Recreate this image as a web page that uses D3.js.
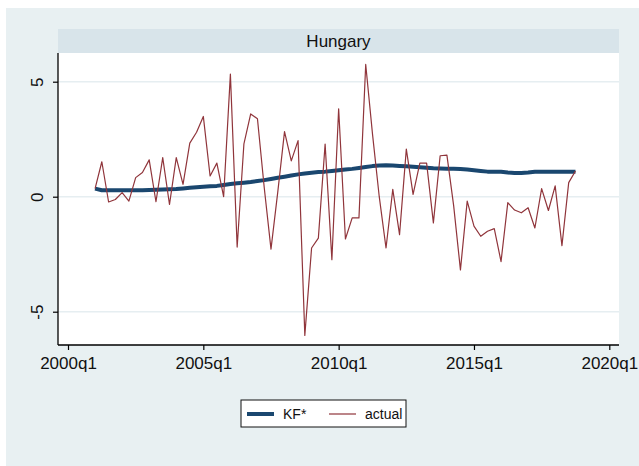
<!DOCTYPE html>
<html>
<head>
<meta charset="utf-8">
<script src="https://cdn.jsdelivr.net/npm/d3@7"></script>
<style>
  html, body { margin: 0; padding: 0; background: #ffffff; }
  svg { display: block; font-family: "Liberation Sans", Arial, sans-serif; }
</style>
</head>
<body>
<svg id="chart" width="639" height="466"></svg>
<script>
// Hungary: Kalman-filtered trend (KF*) against the actual quarterly series, 2001q1–2018q4
const panelTitle = "Hungary";
const firstYear = 2001;
const kfStar = [
  0.35, 0.28, 0.28, 0.28,
  0.28, 0.28, 0.28, 0.28,
  0.29, 0.30, 0.31, 0.32,
  0.33, 0.36, 0.39, 0.41,
  0.43, 0.45, 0.47, 0.51,
  0.55, 0.58, 0.61, 0.64,
  0.68, 0.72, 0.77, 0.82,
  0.87, 0.92, 0.97, 1.01,
  1.04, 1.07, 1.09, 1.12,
  1.15, 1.18, 1.21, 1.25,
  1.29, 1.33, 1.36, 1.37,
  1.36, 1.34, 1.32, 1.30,
  1.28, 1.26, 1.24, 1.23,
  1.22, 1.21, 1.20, 1.18,
  1.15, 1.12, 1.09, 1.09,
  1.08, 1.05, 1.03, 1.03,
  1.05, 1.08, 1.09, 1.09,
  1.09, 1.09, 1.09, 1.09
];
const actual = [
  0.35, 1.52, -0.23, -0.12,
  0.18, -0.19, 0.83, 1.05,
  1.60, -0.22, 1.70, -0.34,
  1.70, 0.54, 2.33, 2.80,
  3.49, 0.90, 1.46, 0.00,
  5.33, -2.19, 2.30, 3.60,
  3.39, 0.40, -2.28, 0.20,
  2.83, 1.56, 2.44, -6.03,
  -2.23, -1.80, 2.29, -2.74,
  3.82, -1.84, -0.92, -0.92,
  5.75, 2.73, 0.00, -2.23,
  0.32, -1.65, 2.07, 0.10,
  1.46, 1.46, -1.14, 1.78,
  1.81, -0.40, -3.18, -0.19,
  -1.28, -1.72, -1.50, -1.39,
  -2.82, -0.26, -0.58, -0.70,
  -0.48, -1.36, 0.35, -0.60,
  0.47, -2.13, 0.61, 1.12
];
const xTickLabels = ["2000q1", "2005q1", "2010q1", "2015q1", "2020q1"];
const yTicks = [-5, 0, 5];
const legendLabels = ["KF*", "actual"];

// quarter index counted from 2000q1
const tIndex = d => (d.year - 2000) * 4 + (d.q - 1);
const parseQ = s => ({ year: +s.slice(0, 4), q: +s.slice(5) });
const periods = actual.map((_, i) => ({ year: firstYear + Math.floor(i / 4), q: (i % 4) + 1 }));
const rows = periods.map((p, i) => ({ t: tIndex(p), kf: kfStar[i], actual: actual[i] }));

const svg = d3.select("#chart");
const W = 639, H = 466;
const plot = { left: 58, right: 619, top: 53, bottom: 345 };

// outer graph region
svg.append("rect").attr("x", 6).attr("y", 8).attr("width", W - 6).attr("height", H - 8)
  .attr("fill", "#e8f0f2");

// panel title strip
svg.append("rect").attr("x", plot.left).attr("y", 29)
  .attr("width", plot.right - plot.left).attr("height", plot.top - 29)
  .attr("fill", "#d8e4ea");
svg.append("text").attr("x", (plot.left + plot.right) / 2).attr("y", 47)
  .attr("text-anchor", "middle").attr("font-size", 17).attr("fill", "#111")
  .text(panelTitle);

// plot region
svg.append("rect").attr("x", plot.left).attr("y", plot.top)
  .attr("width", plot.right - plot.left).attr("height", plot.bottom - plot.top)
  .attr("fill", "#ffffff");

const x = d3.scaleLinear()
  .domain(d3.extent(xTickLabels.map(s => tIndex(parseQ(s)))))
  .range([68, 609.3]);
const y = d3.scaleLinear().domain([-5, 5]).range([311.7, 81.7]);

// horizontal grid lines
svg.append("g").selectAll("line").data(yTicks).join("line")
  .attr("x1", plot.left).attr("x2", plot.right)
  .attr("y1", d => y(d)).attr("y2", d => y(d))
  .attr("stroke", "#e6eef1").attr("stroke-width", 1.5);

// series
const lineKF = d3.line().x(d => x(d.t)).y(d => y(d.kf));
const lineActual = d3.line().x(d => x(d.t)).y(d => y(d.actual));
svg.append("path").datum(rows).attr("d", lineKF)
  .attr("fill", "none").attr("stroke", "#1a476f").attr("stroke-width", 4)
  .attr("stroke-linejoin", "round");
svg.append("path").datum(rows).attr("d", lineActual)
  .attr("fill", "none").attr("stroke", "#90353b").attr("stroke-width", 1.2)
  .attr("stroke-linejoin", "round");

// x axis
const xAxis = d3.axisBottom(x)
  .tickValues(xTickLabels.map(s => tIndex(parseQ(s))))
  .tickFormat((d, i) => xTickLabels[i])
  .tickSize(5).tickSizeOuter(0).tickPadding(7);
const gx = svg.append("g").attr("transform", `translate(0,${plot.bottom})`).call(xAxis);
gx.select(".domain").remove();
gx.append("line").attr("x1", plot.left).attr("x2", plot.right).attr("y1", 0).attr("y2", 0)
  .attr("stroke", "#000").attr("stroke-width", 1.3);
gx.selectAll(".tick line").attr("stroke", "#000").attr("stroke-width", 1.2);
gx.selectAll(".tick text").attr("font-size", 17).attr("fill", "#111")
  .attr("font-family", "'Liberation Sans', Arial, sans-serif");

// y axis (plain hyphen for negative labels)
const yAxis = d3.axisLeft(y).tickValues(yTicks).tickFormat(d => String(d))
  .tickSize(5).tickSizeOuter(0).tickPadding(0);
const gy = svg.append("g").attr("transform", `translate(${plot.left},0)`).call(yAxis);
gy.select(".domain").remove();
gy.append("line").attr("x1", 0).attr("x2", 0).attr("y1", plot.top).attr("y2", plot.bottom)
  .attr("stroke", "#000").attr("stroke-width", 1.3);
gy.selectAll(".tick line").attr("stroke", "#000").attr("stroke-width", 1.2);
gy.selectAll(".tick text")
  .attr("font-size", 17).attr("fill", "#111")
  .attr("font-family", "'Liberation Sans', Arial, sans-serif")
  .attr("text-anchor", "middle").attr("dy", null).attr("x", null)
  .attr("transform", "translate(-15,0) rotate(-90)");

// legend
const lg = svg.append("g").attr("transform", "translate(241,400)");
lg.append("rect").attr("width", 165).attr("height", 27)
  .attr("fill", "#ffffff").attr("stroke", "#111").attr("stroke-width", 1);
lg.append("line").attr("x1", 6).attr("x2", 33).attr("y1", 14).attr("y2", 14)
  .attr("stroke", "#1a476f").attr("stroke-width", 4);
lg.append("text").attr("x", 42).attr("y", 19).attr("font-size", 14).attr("fill", "#111")
  .text(legendLabels[0]);
lg.append("line").attr("x1", 88).attr("x2", 115).attr("y1", 14).attr("y2", 14)
  .attr("stroke", "#90353b").attr("stroke-width", 1.2);
lg.append("text").attr("x", 124).attr("y", 19).attr("font-size", 14).attr("fill", "#111")
  .text(legendLabels[1]);
</script>
</body>
</html>
